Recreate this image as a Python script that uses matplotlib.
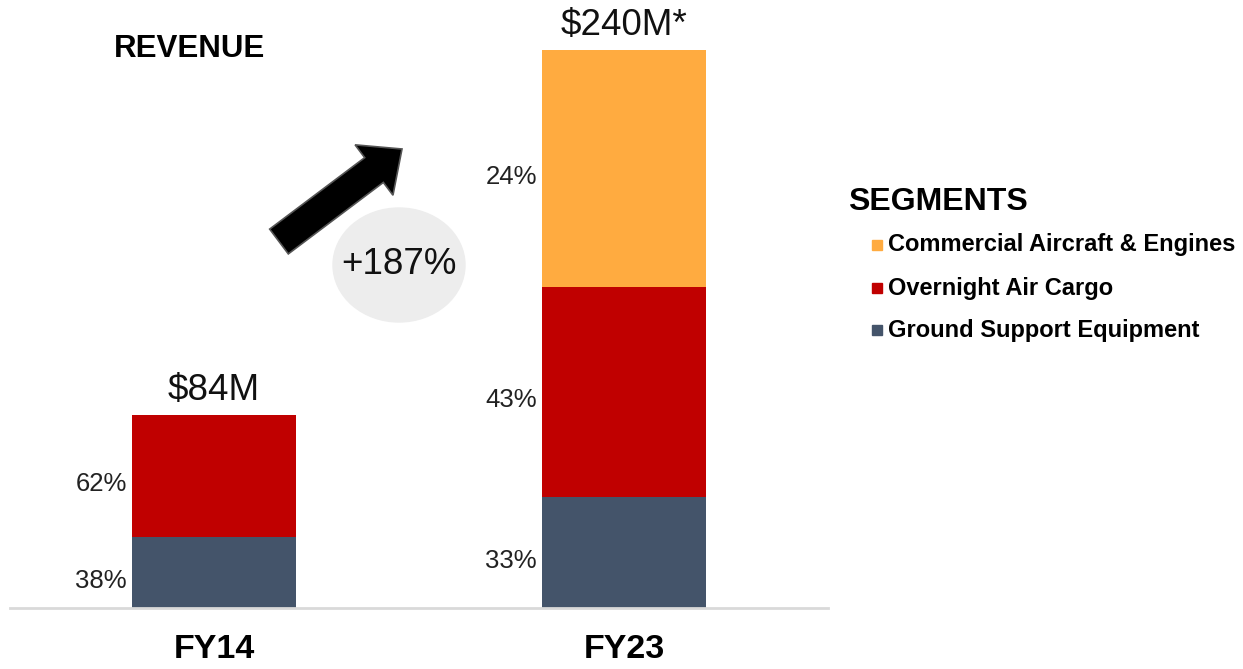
import matplotlib
matplotlib.use("Agg")
import matplotlib.pyplot as plt
from matplotlib.patches import Ellipse, FancyArrow
import numpy as np

plt.rcParams["font.family"] = ["Liberation Sans", "DejaVu Sans"]

years = ["FY14", "FY23"]
totals = ["$84M", "$240M*"]
segments = ["Ground Support Equipment", "Overnight Air Cargo", "Commercial Aircraft & Engines"]
colors = ["#44546A", "#C00000", "#FFAB40"]
# segment heights in $M
ground = [30.5, 47.7]
cargo = [52.5, 90.3]
aircraft = [0.0, 101.9]
ground_pct = ["38%", "33%"]
cargo_pct = ["62%", "43%"]
aircraft_pct = ["", "24%"]
growth = "+187%"

W, H = 1243, 669
fig = plt.figure(figsize=(W / 100, H / 100), dpi=100)
ax = fig.add_axes([10 / W, (H - 608) / H, (828 - 10) / W, (608 - 20) / H])

x = np.arange(len(years))
bw = 0.4
bottom = np.zeros(len(years))
for vals, pcts, c in [(ground, ground_pct, colors[0]), (cargo, cargo_pct, colors[1]),
                      (aircraft, aircraft_pct, colors[2])]:
    ax.bar(x, vals, bw, bottom=bottom, color=c, zorder=2)
    for i, (v, p) in enumerate(zip(vals, pcts)):
        if v > 0:
            ax.text(x[i] - bw / 2 - 0.012, bottom[i] + v / 2 - 3.5, p, ha="right", va="center",
                    fontsize=18.5, color="#222222")
    bottom += np.array(vals)

for i, t in enumerate(totals):
    ax.text(x[i], bottom[i] + 3, t, ha="center", va="bottom", fontsize=26.5, color="#111111")

ax.set_xlim(-204 / 410, 614 / 410)
ax.set_ylim(0, 588 / 2.325)
for s in ["top", "left", "right"]:
    ax.spines[s].set_visible(False)
ax.spines["bottom"].set_color("#D9D9D9")
ax.spines["bottom"].set_linewidth(2)
ax.set_yticks([])
ax.set_xticks(x)
ax.set_xticklabels(years)
ax.tick_params(axis="x", length=0, pad=19)
for lbl in ax.get_xticklabels():
    lbl.set_fontsize(24.5)
    lbl.set_fontweight("bold")

# overlay in pixel coords for decorations
ov = fig.add_axes([0, 0, 1, 1], zorder=3)
ov.set_xlim(0, W)
ov.set_ylim(H, 0)
ov.axis("off")
ov.patch.set_alpha(0)

ov.add_patch(Ellipse((399, 265), 132, 114, color="#EDEDED", zorder=1))
ov.text(399, 265, growth, ha="center", va="center", fontsize=26.5, color="#111111", zorder=2)
tail = np.array([279.0, 241.5])
tip = np.array([402.0, 149.0])
d = tip - tail
ov.add_patch(FancyArrow(tail[0], tail[1], d[0], d[1], width=31, head_width=63, head_length=35,
                        length_includes_head=True, facecolor="black", edgecolor="#555555",
                        linewidth=1.2, zorder=2))

ov.text(190, 49, "REVENUE", ha="center", va="center", fontsize=22.5, fontweight="bold")
ov.text(848, 202, "SEGMENTS", ha="left", va="center", fontsize=23, fontweight="bold")
for yy, name, c in zip([245, 288, 330], segments[::-1], colors[::-1]):
    ov.add_patch(plt.Rectangle((872, yy - 5), 10, 10, color=c))
    ov.text(888, yy, name, ha="left", va="center", fontsize=17, fontweight="bold")

fig.savefig("out.png", dpi=100)
